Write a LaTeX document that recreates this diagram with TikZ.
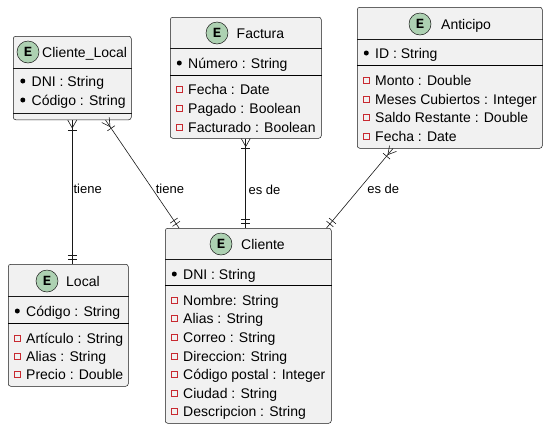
\documentclass[tikz,border=0pt]{standalone}
\usepackage{fontspec}
\setmainfont{Liberation Sans}
\newfontfamily\entmono{Liberation Mono}
\usetikzlibrary{positioning, decorations.markings}
\definecolor{boxfill}{RGB}{241,241,241}
\definecolor{linecolor}{RGB}{24,24,24}
\definecolor{entcolor}{RGB}{173,209,178}
\definecolor{fieldcolor}{RGB}{200,41,48}

\begin{document}
\begin{tikzpicture}[
    x=1pt, y=-1pt,
    entity/.style={draw=linecolor, line width=0.5pt, fill=boxfill, rounded corners=2.5pt, anchor=north west, inner sep=0pt, minimum width=#1},
    ecirc/.style={circle, draw=linecolor, line width=0.5pt, fill=entcolor, minimum size=22pt, inner sep=0pt, font=\entmono\bfseries\fontsize{14}{14}\selectfont},
    etitle/.style={anchor=west, inner sep=0pt, text height=10pt, text depth=0pt, font=\fontsize{14}{17}\selectfont},
    pkdot/.style={circle, fill=black, minimum size=5pt, inner sep=0pt},
    flddot/.style={rectangle, draw=fieldcolor, line width=0.6pt, minimum size=6pt, inner sep=0pt},
    pkrow/.style={etitle, label={[pkdot, xshift=-6pt]left:{}}},
    fldrow/.style={etitle, label={[flddot, xshift=-5.5pt]left:{}}},
    thinsep/.style={draw=linecolor, line width=0.5pt},
    thicksep/.style={draw=black, line width=1pt},
    conn/.style={draw=linecolor, line width=0.6pt},
    lbl/.style={inner sep=0pt, text height=9.5pt, text depth=0pt, font=\fontsize{13}{15}\selectfont},
    manystart/.style={postaction={decorate, decoration={markings,
        mark=at position 8pt with {\draw[conn] (0pt,0pt) -- (-8pt,4.5pt) (0pt,0pt) -- (-8pt,-4.5pt);},
        mark=at position 10pt with {\draw[conn] (0pt,-4.5pt) -- (0pt,4.5pt);}}}},
    oneend/.style={postaction={decorate, decoration={markings,
        mark=at position -5pt with {\draw[conn] (0pt,-4.5pt) -- (0pt,4.5pt);},
        mark=at position -9pt with {\draw[conn] (0pt,-4.5pt) -- (0pt,4.5pt);}}}}
]
    \useasboundingbox (0,0) rectangle (548,429);

    % Entity boxes
    \node[entity=118pt, minimum height=83.5pt] (clocal) at (13,36) {};
    \node[entity=151pt, minimum height=121pt] (factura) at (170,17) {};
    \node[entity=185pt, minimum height=141pt] (anticipo) at (357,7) {};
    \node[entity=120pt, minimum height=122pt] (local) at (8,264) {};
    \node[entity=166pt, minimum height=195pt] (cliente) at (165,228) {};

    % Cliente_Local
    \node[ecirc] (clocalE) at (28,52) {E};
    \node[etitle] (clocalT) at (42,52) {Cliente\_Local};
    \draw[thinsep] (clocal.west |- 0,68) -- (clocal.east |- 0,68);
    \node[pkrow] (clocal1) at (31.5,81) {DNI : String};
    \node[pkrow] (clocal2) at (31.5,100) {Código : String};
    \draw[thinsep] (clocal.west |- 0,113) -- (clocal.east |- 0,113);

    % Factura
    \node[ecirc] (facturaE) at (217,33) {E};
    \node[etitle] (facturaT) at (236.5,33) {Factura};
    \draw[thinsep] (factura.west |- 0,48) -- (factura.east |- 0,48);
    \node[pkrow] (factura1) at (188,63) {Número : String};
    \draw[thicksep] (factura.west |- 0,75) -- (factura.east |- 0,75);
    \node[fldrow] (factura2) at (188,89) {Fecha : Date};
    \node[fldrow] (factura3) at (188,108) {Pagado : Boolean};
    \node[fldrow] (factura4) at (188,127) {Facturado : Boolean};

    % Anticipo
    \node[ecirc] (anticipoE) at (420,24) {E};
    \node[etitle] (anticipoT) at (441,24) {Anticipo};
    \draw[thinsep] (anticipo.west |- 0,39) -- (anticipo.east |- 0,39);
    \node[pkrow] (anticipo1) at (375,53) {ID : String};
    \draw[thicksep] (anticipo.west |- 0,65) -- (anticipo.east |- 0,65);
    \node[fldrow] (anticipo2) at (375,80) {Monto : Double};
    \node[fldrow] (anticipo3) at (375,99) {Meses Cubiertos : Integer};
    \node[fldrow] (anticipo4) at (375,117) {Saldo Restante : Double};
    \node[fldrow] (anticipo5) at (375,136) {Fecha : Date};

    % Local
    \node[ecirc] (localE) at (47,281) {E};
    \node[etitle] (localT) at (66,281) {Local};
    \draw[thinsep] (local.west |- 0,296) -- (local.east |- 0,296);
    \node[pkrow] (local1) at (26,311) {Código : String};
    \draw[thicksep] (local.west |- 0,323) -- (local.east |- 0,323);
    \node[fldrow] (local2) at (26,338) {Artículo : String};
    \node[fldrow] (local3) at (26,356) {Alias : String};
    \node[fldrow] (local4) at (26,374) {Precio : Double};

    % Cliente
    \node[ecirc] (clienteE) at (221,244) {E};
    \node[etitle] (clienteT) at (241,244) {Cliente};
    \draw[thinsep] (cliente.west |- 0,259) -- (cliente.east |- 0,259);
    \node[pkrow] (cliente1) at (183,274) {DNI : String};
    \draw[thicksep] (cliente.west |- 0,285) -- (cliente.east |- 0,285);
    \node[fldrow] (cliente2) at (183,300) {Nombre: String};
    \node[fldrow] (cliente3) at (183,318) {Alias : String};
    \node[fldrow] (cliente4) at (183,337) {Correo : String};
    \node[fldrow] (cliente5) at (183,356) {Direccion: String};
    \node[fldrow] (cliente6) at (183,374) {Código postal : Integer};
    \node[fldrow] (cliente7) at (183,393) {Ciudad : String};
    \node[fldrow] (cliente8) at (183,411) {Descripcion : String};

    % Relations
    \draw[conn, manystart, oneend] (clocal.south) -- node[lbl, pos=.48, right=1pt] (rel1) {tiene} (clocal.south |- local.north);
    \draw[conn, manystart, oneend] ([xshift=-26pt]clocal.south east) -- node[lbl, pos=.64, right=3pt] (rel2) {tiene} ([xshift=14pt]cliente.north west);
    \draw[conn, manystart, oneend] (factura.south) -- node[lbl, pos=.57, right=2.5pt] (rel3) {es de} (factura.south |- cliente.north);
    \draw[conn, manystart, oneend] ([xshift=36pt]anticipo.south west) -- node[lbl, pos=.51, right=8pt] (rel4) {es de} ([xshift=-5pt]cliente.north east);
\end{tikzpicture}
\end{document}
